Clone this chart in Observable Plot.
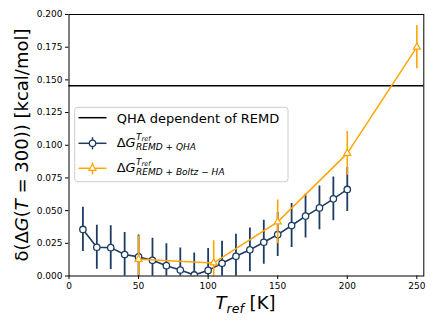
<!DOCTYPE html>
<html>
<head>
<meta charset="utf-8">
<script src="https://cdn.jsdelivr.net/npm/d3@7"></script>
<script src="https://cdn.jsdelivr.net/npm/@observablehq/plot@0.6"></script>
<style>
  html, body { margin: 0; padding: 0; background: #fff; }
  svg { font-family: "DejaVu Sans", sans-serif; }
</style>
</head>
<body>
<script>
// ---- data ----
const blueT = [10, 20, 30, 40, 50, 60, 70, 80, 90, 100, 110, 120, 130, 140, 150, 160, 170, 180, 190, 200];
const blueDG = [0.0356, 0.0220, 0.0217, 0.0164, 0.0146, 0.0120, 0.0079, 0.0046, 0.0008, 0.0043,
                0.0097, 0.0151, 0.0200, 0.0258, 0.0317, 0.0386, 0.0458, 0.0521, 0.0590, 0.0662];
const blueErr = [0.0169, 0.0169, 0.0168, 0.0168, 0.0168, 0.0168, 0.0168, 0.0168, 0.0168, 0.0168,
                 0.0168, 0.0168, 0.0168, 0.0168, 0.0168, 0.0168, 0.0168, 0.0168, 0.0168, 0.0168];
const orangeT = [50, 104, 150, 200, 250];
const orangeDG = [0.0128, 0.0100, 0.0414, 0.0938, 0.1750];
const orangeErr = [0.0178, 0.0169, 0.0168, 0.0168, 0.0165];
const qhaValue = 0.1455;
const xTicks = [0, 50, 100, 150, 200, 250];
const yTicks = [0, 0.025, 0.05, 0.075, 0.1, 0.125, 0.15, 0.175, 0.2];

const blue = "#1d3c64";
const orange = "#ffa500";

const blueData = blueT.map((t, i) => ({t, v: blueDG[i], e: blueErr[i]}));
const orangeData = orangeT.map((t, i) => ({t, v: orangeDG[i], e: orangeErr[i]}));

const plot = Plot.plot({
  width: 436,
  height: 327,
  marginLeft: 68.5,
  marginRight: 12.7,
  marginTop: 14,
  marginBottom: 51.5,
  style: {fontFamily: "DejaVu Sans", fontSize: "9px", color: "black", background: "white"},
  x: {domain: [0, 255]},
  y: {domain: [0, 0.2]},
  marks: [
    Plot.ruleY([qhaValue], {stroke: "black", strokeWidth: 1.5}),
    Plot.ruleX(blueData, {x: "t", y1: d => d.v - d.e, y2: d => d.v + d.e, stroke: blue, strokeWidth: 1.8, clip: true}),
    Plot.line(blueData, {x: "t", y: "v", stroke: blue, strokeWidth: 1.6, clip: true}),
    Plot.dot(blueData, {x: "t", y: "v", r: 3.2, fill: "white", stroke: blue, strokeWidth: 1.3, clip: true}),
    Plot.ruleX(orangeData, {x: "t", y1: d => d.v - d.e, y2: d => d.v + d.e, stroke: orange, strokeWidth: 1.6, clip: true}),
    Plot.line(orangeData, {x: "t", y: "v", stroke: orange, strokeWidth: 1.5, clip: true}),
    Plot.dot(orangeData, {x: "t", y: "v", r: 2.6, symbol: "triangle", fill: "white", stroke: orange, strokeWidth: 1.2, clip: true}),
    Plot.frame({stroke: "black", strokeWidth: 1}),
    Plot.axisX({ticks: xTicks, tickSize: 3.5, tickPadding: 3, fontSize: 9, label: null}),
    Plot.axisY({ticks: yTicks, tickSize: 3.5, tickPadding: 3, fontSize: 9, tickFormat: d3.format(".3f"), label: null})
  ]
});
document.body.appendChild(plot);

const svg = d3.select(plot);
const ff = "DejaVu Sans";

// y axis label
const yl = svg.append("text")
  .attr("transform", "translate(28,145) rotate(-90)")
  .attr("text-anchor", "middle")
  .attr("font-family", ff).attr("font-size", 18).attr("fill", "black");
yl.append("tspan").text("δ(Δ");
yl.append("tspan").attr("font-style", "italic").text("G");
yl.append("tspan").text("(");
yl.append("tspan").attr("font-style", "italic").text("T");
yl.append("tspan").text(" = 300)) [kcal/mol]");

// x axis label
const xl = svg.append("text")
  .attr("x", 245.5).attr("y", 309)
  .attr("text-anchor", "middle")
  .attr("font-family", ff).attr("font-size", 18).attr("fill", "black");
xl.append("tspan").attr("font-style", "italic").text("T");
xl.append("tspan").attr("font-style", "italic").attr("font-size", 12.6).attr("dy", 4).text("ref");
xl.append("tspan").attr("dy", -4).text(" [K]");

// legend
const lg = svg.append("g").attr("text-anchor", "start");
lg.append("rect").attr("x", 74.7).attr("y", 107.3).attr("width", 213.3).attr("height", 74.4)
  .attr("rx", 3).attr("fill", "white").attr("fill-opacity", 0.8).attr("stroke", "#cccccc").attr("stroke-width", 1);

// entry 1
lg.append("line").attr("x1", 78.5).attr("x2", 106.5).attr("y1", 117.7).attr("y2", 117.7)
  .attr("stroke", "black").attr("stroke-width", 1.5);
lg.append("text").attr("x", 116.7).attr("y", 122.5).attr("text-anchor", "start").attr("font-family", ff).attr("font-size", 13)
  .attr("fill", "black").text("QHA dependent of REMD");

function mathEntry(y, color, symbol, sub) {
  lg.append("line").attr("x1", 78.5).attr("x2", 106.5).attr("y1", y).attr("y2", y)
    .attr("stroke", color).attr("stroke-width", 1.5);
  lg.append("line").attr("x1", 92.5).attr("x2", 92.5).attr("y1", y - 6).attr("y2", y + 6)
    .attr("stroke", color).attr("stroke-width", 1.5);
  if (symbol === "circle") {
    lg.append("circle").attr("cx", 92.5).attr("cy", y).attr("r", 3.2)
      .attr("fill", "white").attr("stroke", color).attr("stroke-width", 1.3);
  } else {
    lg.append("path").attr("transform", `translate(92.5,${y})`)
      .attr("d", d3.symbol(d3.symbolTriangle, Math.PI * 2.6 * 2.6)())
      .attr("fill", "white").attr("stroke", color).attr("stroke-width", 1.2);
  }
  const base = y + 4;
  const t = lg.append("text").attr("x", 116.7).attr("y", base).attr("text-anchor", "start").attr("font-family", ff)
    .attr("font-size", 13).attr("fill", "black");
  t.append("tspan").text("Δ");
  t.append("tspan").attr("font-style", "italic").text("G");
  const sup = lg.append("text").attr("x", 136).attr("y", base - 7.3).attr("text-anchor", "start").attr("font-family", ff)
    .attr("font-size", 9).attr("fill", "black");
  sup.append("tspan").attr("font-style", "italic").text("T");
  sup.append("tspan").attr("font-style", "italic").attr("font-size", 6.5).attr("dy", 1.4).text("ref");
  const sb = lg.append("text").attr("x", 136).attr("y", base + 2.5).attr("text-anchor", "start").attr("font-family", ff)
    .attr("font-size", 9).attr("fill", "black");
  sub.forEach(([s, it]) => {
    const ts = sb.append("tspan").text(s);
    if (it) ts.attr("font-style", "italic");
  });
}
mathEntry(143.3, blue, "circle", [["REMD", true], [" + ", false], ["QHA", true]]);
mathEntry(168.3, orange, "triangle", [["REMD", true], [" + ", false], ["Boltz", true], [" − ", false], ["HA", true]]);
</script>
</body>
</html>
